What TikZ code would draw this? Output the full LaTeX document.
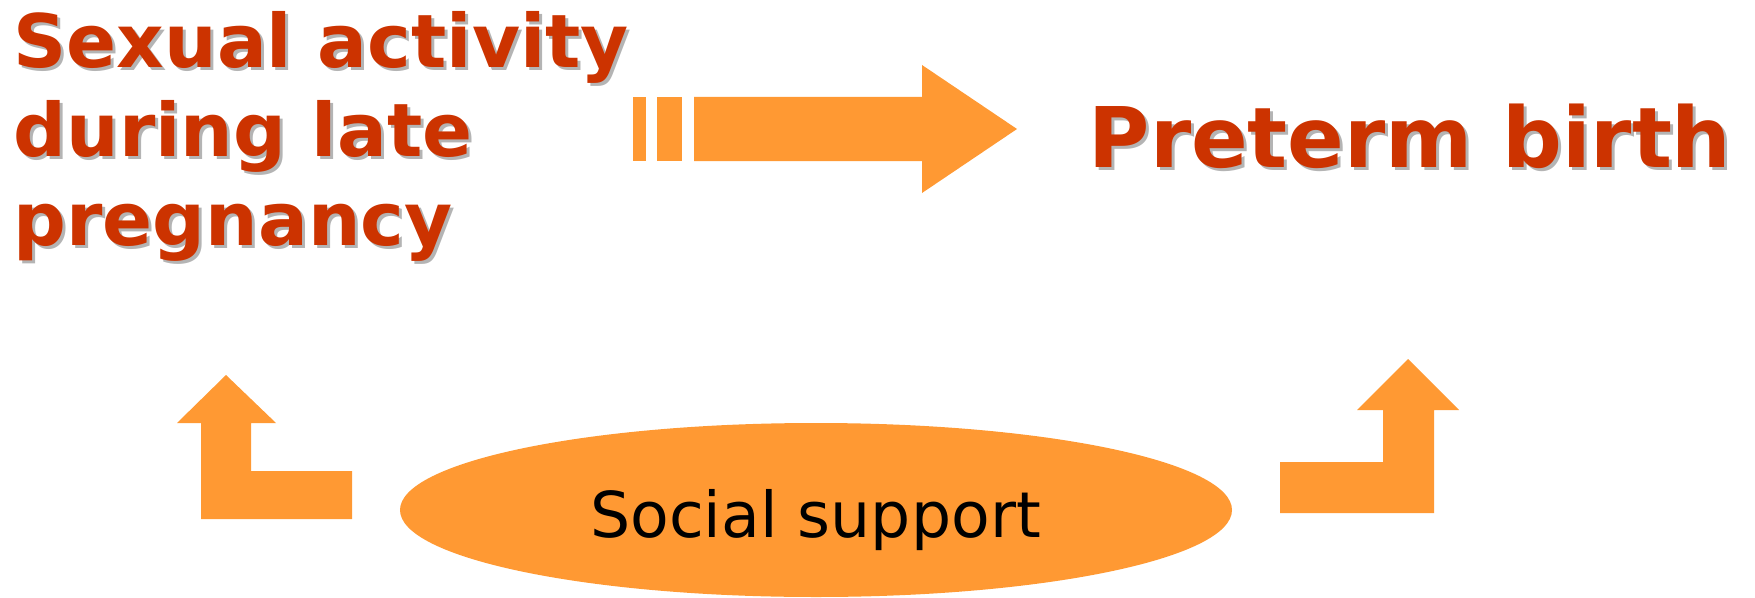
\documentclass[tikz,border=0pt]{standalone}
\usepackage{fontspec}
\setmainfont{DejaVu Sans}
\usepackage{xcolor}
\usepackage{tikz}
\usetikzlibrary{shapes.geometric, positioning}
\definecolor{myred}{RGB}{204,51,0}
\definecolor{myorange}{RGB}{255,153,51}
\definecolor{myshadow}{RGB}{180,180,180}
\tikzset{
  bigtext/.style={inner sep=0pt, align=left,
    font=\fontsize{21}{25.3}\selectfont\bfseries},
  outcometext/.style={inner sep=0pt,
    font=\fontsize{23.8}{28}\selectfont\bfseries},
  blockarrow/.style={fill=myorange, draw=none},
  oval/.style={ellipse, fill=myorange, draw=none, inner sep=0pt,
    minimum width=8.32cm, minimum height=1.74cm},
  ovaltext/.style={inner sep=0pt, font=\fontsize{18}{22}\selectfont}
}

\begin{document}
\begin{tikzpicture}
  \useasboundingbox (0,0) rectangle (17.55,5.97);

  % Exposure, with its shadow
  \node[bigtext, anchor=north west, text=myshadow] (exposureshadow) at (0.16,5.83)
    {Sexual activity\\during late\\pregnancy};
  \node[bigtext, anchor=north west, text=myred] (exposure) at (0.13,5.86)
    {Sexual activity\\during late\\pregnancy};

  % Outcome, with its shadow
  \node[outcometext, anchor=base west, text=myshadow] (outcomeshadow) at (10.91,4.27) {Preterm birth};
  \node[outcometext, anchor=base west, text=myred] (outcome) at (10.88,4.30) {Preterm birth};

  % Broken arrow between them
  \fill[blockarrow] (6.33,4.36) rectangle (6.46,5.00);
  \fill[blockarrow] (6.57,4.36) rectangle (6.82,5.00);
  \fill[blockarrow] (6.94,4.36) -- (9.22,4.36) -- (9.22,4.04) -- (10.17,4.68)
    -- (9.22,5.32) -- (9.22,5.00) -- (6.94,5.00) -- cycle;

  % Modifier
  \node[oval] (support) at (8.16,0.87) {};
  \node[ovaltext, anchor=base] (supportlabel) at (8.155,0.60) {Social support};

  % Bent arrows up to both sides
  \fill[blockarrow] (2.01,0.78) -- (3.52,0.78) -- (3.52,1.26) -- (2.51,1.26)
    -- (2.51,1.74) -- (2.76,1.74) -- (2.26,2.22) -- (1.77,1.74) -- (2.01,1.74) -- cycle;
  \fill[blockarrow] (12.80,0.84) -- (14.34,0.84) -- (14.34,1.87) -- (14.59,1.87)
    -- (14.08,2.38) -- (13.57,1.87) -- (13.83,1.87) -- (13.83,1.35) -- (12.80,1.35) -- cycle;
\end{tikzpicture}
\end{document}
